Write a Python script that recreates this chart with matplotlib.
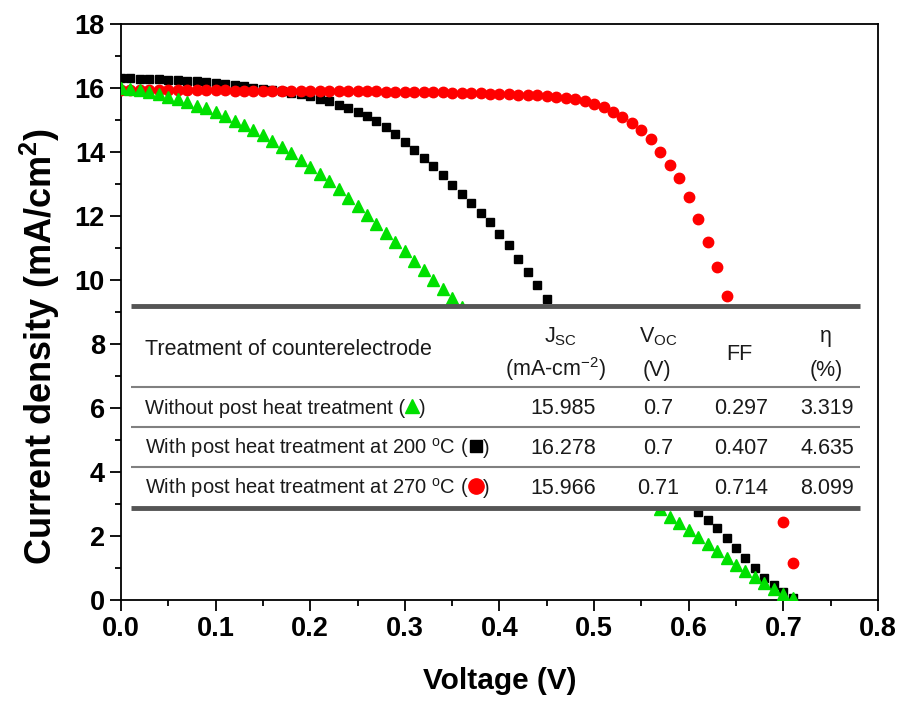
import numpy as np
import matplotlib
matplotlib.use("Agg")
import matplotlib.pyplot as plt
from matplotlib.ticker import MultipleLocator
from matplotlib.patches import Rectangle

plt.rcParams["font.family"] = "Liberation Sans"
plt.rcParams["mathtext.fontset"] = "custom"
plt.rcParams["mathtext.rm"] = "Liberation Sans"
plt.rcParams["mathtext.it"] = "Liberation Sans:italic"
plt.rcParams["mathtext.bf"] = "Liberation Sans:bold"

# J-V data, one point every 10 mV (values read off the picture,
# the part hidden by the table is a rough estimate)
voltage = [0.00, 0.01, 0.02, 0.03, 0.04, 0.05, 0.06, 0.07, 0.08, 0.09,
           0.10, 0.11, 0.12, 0.13, 0.14, 0.15, 0.16, 0.17, 0.18, 0.19,
           0.20, 0.21, 0.22, 0.23, 0.24, 0.25, 0.26, 0.27, 0.28, 0.29,
           0.30, 0.31, 0.32, 0.33, 0.34, 0.35, 0.36, 0.37, 0.38, 0.39,
           0.40, 0.41, 0.42, 0.43, 0.44, 0.45, 0.46, 0.47, 0.48, 0.49,
           0.50, 0.51, 0.52, 0.53, 0.54, 0.55, 0.56, 0.57, 0.58, 0.59,
           0.60, 0.61, 0.62, 0.63, 0.64, 0.65, 0.66, 0.67, 0.68, 0.69,
           0.70, 0.71]

j_none = [16.00, 15.98, 15.94, 15.88, 15.82, 15.72, 15.64, 15.55, 15.45, 15.36,
          15.25, 15.12, 14.98, 14.84, 14.68, 14.52, 14.34, 14.15, 13.96, 13.75,
          13.52, 13.30, 13.08, 12.83, 12.57, 12.30, 12.03, 11.76, 11.48, 11.20,
          10.90, 10.60, 10.30, 10.00, 9.72, 9.45, 9.15, 8.85, 8.55, 8.25,
          7.95, 7.65, 7.35, 7.05, 6.75, 6.45, 6.15, 5.85, 5.55, 5.25,
          4.95, 4.65, 4.35, 4.05, 3.75, 3.45, 3.15, 2.85, 2.60, 2.40,
          2.19, 1.96, 1.74, 1.52, 1.31, 1.10, 0.90, 0.72, 0.53, 0.34,
          0.18, 0.05]

j_200 = [16.30, 16.30, 16.29, 16.28, 16.27, 16.26, 16.25, 16.23, 16.21, 16.18,
         16.15, 16.12, 16.09, 16.05, 16.01, 15.97, 15.93, 15.89, 15.85, 15.80,
         15.74, 15.67, 15.58, 15.48, 15.37, 15.25, 15.12, 14.96, 14.78, 14.56,
         14.32, 14.07, 13.81, 13.55, 13.27, 12.98, 12.70, 12.40, 12.10, 11.80,
         11.45, 11.10, 10.65, 10.25, 9.85, 9.42, 9.00, 8.58, 8.16, 7.74,
         7.32, 6.90, 6.48, 6.06, 5.64, 5.22, 4.80, 4.38, 3.96, 3.54,
         3.14, 2.75, 2.50, 2.25, 1.94, 1.63, 1.31, 1.00, 0.69, 0.47,
         0.25, 0.05]

j_270 = [15.95, 15.95, 15.95, 15.95, 15.94, 15.94, 15.94, 15.94, 15.93, 15.93,
         15.93, 15.93, 15.92, 15.92, 15.92, 15.92, 15.91, 15.91, 15.91, 15.91,
         15.90, 15.90, 15.90, 15.90, 15.89, 15.89, 15.89, 15.89, 15.88, 15.88,
         15.88, 15.87, 15.87, 15.86, 15.86, 15.85, 15.85, 15.84, 15.83, 15.82,
         15.81, 15.80, 15.79, 15.78, 15.77, 15.75, 15.73, 15.70, 15.66, 15.60,
         15.50, 15.40, 15.25, 15.10, 14.90, 14.70, 14.40, 14.00, 13.60, 13.20,
         12.60, 11.90, 11.20, 10.40, 9.50, 8.50, 7.40, 6.20, 4.95, 3.70,
         2.44, 1.15]

# table contents
treatments = ["Without post heat treatment (",
              "With post heat treatment at 200 $^{\\mathrm{o}}$C (",
              "With post heat treatment at 270 $^{\\mathrm{o}}$C ("]
jsc = [15.985, 16.278, 15.966]
voc = [0.7, 0.7, 0.71]
ff = [0.297, 0.407, 0.714]
eta = [3.319, 4.635, 8.099]

green = "#00e000"
red = "#ff0000"

fig = plt.figure(figsize=(8.98, 7.01), dpi=100)
ax = fig.add_axes([0.1347, 0.1441, 0.8430, 0.8217])

ax.plot(voltage, j_200, ls="none", marker="s", ms=6.3, color="black", zorder=2)
ax.plot(voltage, j_270, ls="none", marker="o", ms=7.5, color=red, zorder=3)
ax.plot(voltage, j_none, ls="none", marker="^", ms=8, color=green, zorder=4)

ax.set_xlim(0, 0.8)
ax.set_ylim(0, 18)
ax.xaxis.set_major_locator(MultipleLocator(0.1))
ax.xaxis.set_minor_locator(MultipleLocator(0.05))
ax.yaxis.set_major_locator(MultipleLocator(2))
ax.yaxis.set_minor_locator(MultipleLocator(1))
ax.xaxis.set_major_formatter(plt.FormatStrFormatter("%.1f"))
ax.tick_params(which="major", direction="out", length=8, width=1.3,
               labelsize=19.5, top=False, right=False)
ax.tick_params(which="minor", direction="out", length=4, width=1.3,
               top=False, right=False)
for lab in ax.get_xticklabels() + ax.get_yticklabels():
    lab.set_fontweight("bold")
for s in ax.spines.values():
    s.set_linewidth(1.3)

ax.set_xlabel("Voltage (V)", fontsize=21.5, fontweight="bold")
ax.set_ylabel("Current density (mA/cm$^{\\mathbf{2}}$)", fontsize=26, fontweight="bold")
ax.xaxis.set_label_coords(0.5, -0.117)
ax.yaxis.set_label_coords(-0.078, 0.44)

# inset table drawn over the curves
x0, x1 = 0.0106, 0.781
ax.add_patch(Rectangle((x0, 2.88), x1 - x0, 9.2 - 2.88, facecolor="white",
                       edgecolor="none", zorder=5))
ax.hlines([9.2, 2.88], x0, x1, color="#555555", lw=3.5, zorder=6)
ax.hlines([6.67, 5.42, 4.16], x0, x1, color="#808080", lw=1.5, zorder=6)

tk = dict(fontsize=15.5, color="#1a1a1a", zorder=7)
ax.text(0.0254, 7.67, "Treatment of counterelectrode", ha="left", va="baseline", **tk)
ax.text(0.465, 8.05, "J$_{\\mathrm{SC}}$", ha="center", va="baseline", **tk)
ax.text(0.459, 7.01, "(mA-cm$^{-2}$)", ha="center", va="baseline", **tk)
ax.text(0.568, 8.05, "V$_{\\mathrm{OC}}$", ha="center", va="baseline", **tk)
ax.text(0.566, 7.01, "(V)", ha="center", va="baseline", **tk)
ax.text(0.654, 7.51, "FF", ha="center", va="baseline", **tk)
ax.text(0.745, 8.05, "η", ha="center", va="baseline", **tk)
ax.text(0.745, 7.01, "(%)", ha="center", va="baseline", **tk)

row_base = [5.82, 4.57, 3.32]
row_mid = [6.07, 4.82, 3.57]
symbols = [("^", green, 10), ("s", "black", 9), ("o", red, 11)]
rk = dict(tk, fontsize=14.5)

r = fig.canvas.get_renderer()
inv = ax.transData.inverted()
for i in range(3):
    t = ax.text(0.0254, row_base[i], treatments[i], ha="left", va="baseline", **rk)
    bb = t.get_window_extent(renderer=r)
    xm = inv.transform((bb.x1 + 7, 0))[0]
    xc = inv.transform((bb.x1 + 14, 0))[0]
    m, c, s = symbols[i]
    ax.plot([xm], [row_mid[i]], ls="none", marker=m, ms=s, color=c, zorder=7, clip_on=False)
    ax.text(xc, row_base[i], ")", ha="left", va="baseline", **rk)
    ax.text(0.467, row_base[i], str(jsc[i]), ha="center", va="baseline", **tk)
    ax.text(0.568, row_base[i], str(voc[i]), ha="center", va="baseline", **tk)
    ax.text(0.655, row_base[i], str(ff[i]), ha="center", va="baseline", **tk)
    ax.text(0.746, row_base[i], str(eta[i]), ha="center", va="baseline", **tk)

fig.savefig("out.png", dpi=100)
